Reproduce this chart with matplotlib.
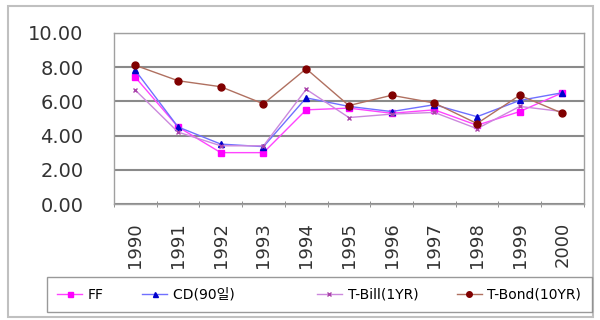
import numpy as np
import matplotlib.pyplot as plt
from matplotlib.patches import Rectangle

plt.rcParams['font.family'] = ['DejaVu Sans', 'Noto Sans CJK KR']

years = ['1990', '1991', '1992', '1993', '1994', '1995', '1996', '1997', '1998', '1999', '2000']
ff = [7.4, 4.5, 3.0, 3.0, 5.5, 5.6, 5.3, 5.5, 4.6, 5.4, 6.5]
cd = [7.8, 4.5, 3.5, 3.35, 6.2, 5.7, 5.4, 5.8, 5.1, 6.05, 6.5]
tbill = [6.65, 4.2, 3.4, 3.4, 6.7, 5.05, 5.25, 5.35, 4.4, 5.7, 5.4]
tbond = [8.1, 7.2, 6.85, 5.85, 7.9, 5.75, 6.35, 5.9, 4.7, 6.35, 5.3]
labels = ['FF', 'CD(90일)', 'T-Bill(1YR)', 'T-Bond(10YR)']

fig = plt.figure(figsize=(6, 3.2), dpi=100)
fig.patches.append(Rectangle((0.014, 0.01), 0.975, 0.972, transform=fig.transFigure,
                             fill=False, edgecolor='#c0c0c0', linewidth=1.5))
ax = fig.add_axes([0.19, 0.3625, 0.783, 0.535])

x = np.arange(len(years))
ax.plot(x, ff, color='#ff44ff', lw=1, marker='s', ms=4.5, mfc='#ff00ff', mec='#ff00ff', label=labels[0])
ax.plot(x, cd, color='#7070ff', lw=1, marker='^', ms=4.5, mfc='#0000cc', mec='#0000cc',
        label=labels[1] + '          ')
ax.plot(x, tbill, color='#cc88dd', lw=1, marker='x', ms=3.5, mec='#aa44aa', label=labels[2])
ax.plot(x, tbond, color='#b07060', lw=1, marker='o', ms=5, mfc='#800000', mec='#800000', label=labels[3])

ax.set_xlim(-0.5, len(years) - 0.5)
ax.set_ylim(0, 10)
ax.set_yticks(np.arange(0, 10.1, 2))
ax.set_yticklabels(['%.2f' % v for v in np.arange(0, 10.1, 2)])
ax.set_xticks(x)
ax.set_xticklabels(years, rotation=90)
ax.set_xticks(np.arange(-0.5, len(years), 1), minor=True)
ax.tick_params(axis='x', which='major', length=0, labelsize=13, colors='#333333', pad=13)
ax.tick_params(axis='x', which='minor', length=5, direction='inout', color='#808080')
ax.tick_params(axis='y', length=0, labelsize=14, colors='#333333', pad=22)
ax.yaxis.grid(True, color='#8a8a8a', lw=1.5)
ax.set_axisbelow(True)
for s in ax.spines.values():
    s.set_color('#a0a0a0')
    s.set_linewidth(1)

fig.legend(loc='lower left', bbox_to_anchor=(0.078, 0.025, 0.908, 0.10), mode='expand',
           ncol=4, fontsize=10, frameon=True, fancybox=False, edgecolor='#808080',
           handlelength=1.8, handletextpad=0.4, columnspacing=1.5, borderaxespad=0,
           borderpad=0.75, markerscale=0.8)

fig.savefig('out.png', dpi=100)
